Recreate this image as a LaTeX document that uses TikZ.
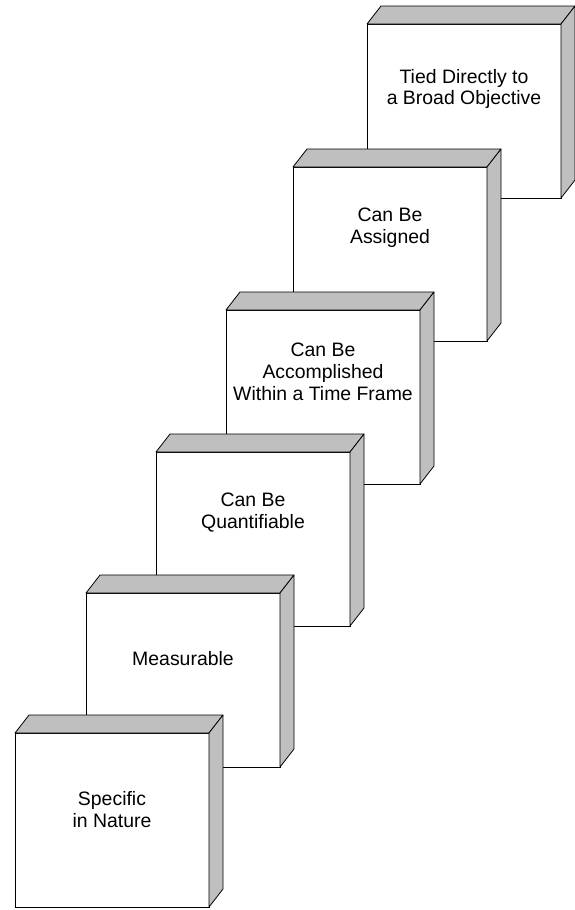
\documentclass[tikz,border=0pt]{standalone}
\usepackage{fontspec}
\setmainfont{Liberation Sans}
\usepackage{tikz}
\tikzset{
  front/.style = {draw=black, fill=white, line width=0.8bp, anchor=north west,
    minimum width=194bp, minimum height=174bp, inner sep=0pt, outer sep=0pt},
  shade/.style = {draw=black, fill=black!25, line width=0.8bp, line join=round},
  lbl/.style = {align=center, inner sep=0pt,
    font=\fontsize{19.5}{22}\selectfont}
}

\begin{document}
\begin{tikzpicture}[x=1bp, y=-1bp]
\useasboundingbox (0,0) rectangle (575,910);
% boxes from the top one down, so each lower box sits in front
\foreach \bx/\by/\ty/\txt [count=\i] in {
  367/24/89/{Tied Directly to\\a Broad Objective},
  293/167/228/{Can Be\\Assigned},
  226/310/372/{Can Be\\Accomplished\\Within a Time Frame},
  156/452/513/{Can Be\\Quantifiable},
  86/593/659/{Measurable},
  15/733/810/{Specific\\in Nature}}
{
  \node [front] (box\i) at (\bx,\by) {};
  \filldraw [shade] (box\i.north west) -- ++(14,-18) -- ++(194,0)
    -- (box\i.north east) -- cycle;
  \filldraw [shade] (box\i.north east) -- ++(14,-18) -- ++(0,174)
    -- (box\i.south east) -- cycle;
  \node [lbl] (lbl\i) at (\bx+97,\ty) {\txt};
}
\end{tikzpicture}
\end{document}
